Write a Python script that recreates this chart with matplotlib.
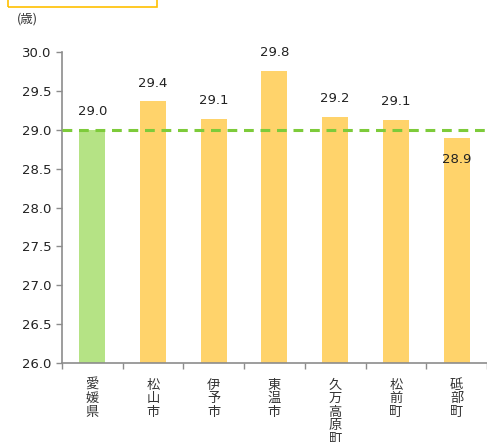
import matplotlib
matplotlib.use("Agg")
import matplotlib.pyplot as plt
from matplotlib.patches import Rectangle

plt.rcParams['font.family'] = ['DejaVu Sans', 'Noto Sans CJK JP']

areas = ["愛媛県", "松山市", "伊予市", "東温市", "久万高原町", "松前町", "砥部町"]
ages = [29.0, 29.37, 29.14, 29.76, 29.17, 29.13, 28.89]
shown = ["29.0", "29.4", "29.1", "29.8", "29.2", "29.1", "28.9"]
pref_avg = 29.0

orange = "#FFD36B"
green = "#B5E385"
gray = "#8C8C8C"

fig = plt.figure(figsize=(4.87, 4.42), dpi=100)
ax = fig.add_axes([0.127, 0.179, 0.873, 0.703])

colors = [green] + [orange] * (len(areas) - 1)
x = range(len(areas))
ax.bar(x, [a - 26 for a in ages], bottom=26, width=0.43, color=colors, zorder=2)
ax.axhline(pref_avg, color="#7DCB3A", lw=2.2, ls=(0, (3.2, 2.2)), zorder=3)

for i, (a, s) in enumerate(zip(ages, shown)):
    if a < pref_avg:
        ax.annotate(s, (i, a), xytext=(0, -15), textcoords="offset points",
                    ha="center", va="center", fontsize=9.5, color="#222222", zorder=4)
    else:
        ax.annotate(s, (i, a), xytext=(0, 13), textcoords="offset points",
                    ha="center", va="center", fontsize=9.5, color="#222222", zorder=4)

ax.set_xlim(-0.5, len(areas) - 0.5)
ax.set_ylim(26.0, 30.0)
ax.set_yticks([26.0 + 0.5 * k for k in range(9)])
ax.set_yticklabels(["%.1f" % (26.0 + 0.5 * k) for k in range(9)], fontsize=9.5, color="#222222")
ax.set_xticks([i - 0.5 for i in range(len(areas) + 1)])
ax.set_xticklabels([])
ax.tick_params(axis="both", color=gray, length=4, width=1)

# vertical labels, one character per line
for i, name in enumerate(areas):
    for k, ch in enumerate(name):
        ax.annotate(ch, (i, 0), xycoords=ax.get_xaxis_transform(),
                    xytext=(0, -16 - 9.8 * k), textcoords="offset points",
                    ha="center", va="center", fontsize=9.5,
                    family=['Noto Sans CJK JP', 'DejaVu Sans'], color="#333333")

for sp in ["top", "right"]:
    ax.spines[sp].set_visible(False)
for sp in ["left", "bottom"]:
    ax.spines[sp].set_color(gray)
    ax.spines[sp].set_linewidth(1.2)

fig.text(0.035, 0.958, "(歳)", fontsize=9, family=['Noto Sans CJK JP', 'DejaVu Sans'],
         color="#333333", va="center", ha="left")

fig.patches.append(Rectangle((0.017, 0.985), 0.305, 0.05, transform=fig.transFigure,
                             fill=False, edgecolor="#FFC000", lw=1.2))

fig.savefig("out.png", dpi=100)
